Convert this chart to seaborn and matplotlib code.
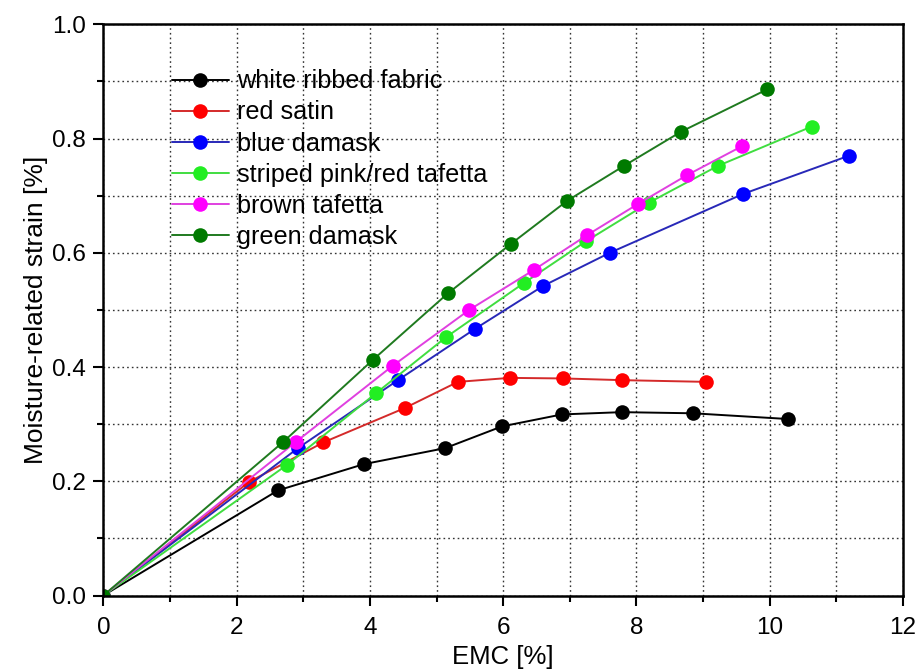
import matplotlib
matplotlib.use("Agg")
import matplotlib.pyplot as plt
import seaborn as sns
import numpy as np
import pandas as pd
from matplotlib.ticker import MultipleLocator

# ---- data ----
labels = ["white ribbed fabric", "red satin", "blue damask",
          "striped pink/red tafetta", "brown tafetta", "green damask"]

white_x = [0, 2.62, 3.91, 5.13, 5.98, 6.88, 7.78, 8.85, 10.27]
white_y = [0, 0.184, 0.230, 0.258, 0.296, 0.317, 0.321, 0.319, 0.309]

red_x = [0, 2.19, 3.30, 4.52, 5.32, 6.10, 6.90, 7.79, 9.05]
red_y = [0, 0.199, 0.268, 0.328, 0.374, 0.381, 0.380, 0.377, 0.374]

blue_x = [0, 2.92, 4.42, 5.58, 6.60, 7.60, 9.60, 11.19]
blue_y = [0, 0.258, 0.377, 0.467, 0.542, 0.600, 0.703, 0.770]

lime_x = [0, 2.76, 4.09, 5.14, 6.31, 7.24, 8.19, 9.22, 10.63]
lime_y = [0, 0.229, 0.354, 0.452, 0.547, 0.620, 0.688, 0.752, 0.821]

brown_x = [0, 2.89, 4.34, 5.49, 6.46, 7.26, 8.03, 8.76, 9.59]
brown_y = [0, 0.269, 0.402, 0.500, 0.570, 0.631, 0.686, 0.736, 0.787]

green_x = [0, 2.70, 4.04, 5.17, 6.11, 6.96, 7.81, 8.67, 9.96]
green_y = [0, 0.269, 0.412, 0.529, 0.615, 0.691, 0.752, 0.812, 0.886]

xs = [white_x, red_x, blue_x, lime_x, brown_x, green_x]
ys = [white_y, red_y, blue_y, lime_y, brown_y, green_y]

marker_colors = ["#000000", "#ff0000", "#0000ff", "#22ee22", "#ff00ff", "#007a00"]
line_colors = ["#000000", "#d42a2a", "#2828b8", "#40dd40", "#e040e0", "#1f7a1f"]

# ---- style ----
sns.set_theme(style="white")
plt.rcParams["font.family"] = ["Liberation Sans", "DejaVu Sans"]
plt.rcParams["text.color"] = "black"
plt.rcParams["axes.labelcolor"] = "black"
plt.rcParams["xtick.color"] = "black"
plt.rcParams["ytick.color"] = "black"

fig = plt.figure(figsize=(9.21, 6.71), dpi=100)
ax = fig.add_axes([0.1122, 0.1125, 0.8683, 0.8513])

for lab, x, y, mc, lc in zip(labels, xs, ys, marker_colors, line_colors):
    df = pd.DataFrame({"x": x, "y": y})
    sns.lineplot(data=df, x="x", y="y", ax=ax, color=lc, linewidth=1.4,
                 marker="o", markersize=10.5, markerfacecolor=mc,
                 markeredgecolor=mc, markeredgewidth=0, label=lab,
                 sort=False, clip_on=True)

ax.set_xlim(0, 12)
ax.set_ylim(0, 1.0)
ax.xaxis.set_major_locator(MultipleLocator(2))
ax.xaxis.set_minor_locator(MultipleLocator(1))
ax.yaxis.set_major_locator(MultipleLocator(0.2))
ax.yaxis.set_minor_locator(MultipleLocator(0.1))
ax.xaxis.set_major_formatter(matplotlib.ticker.FormatStrFormatter("%d"))
ax.yaxis.set_major_formatter(matplotlib.ticker.FormatStrFormatter("%.1f"))

ax.grid(True, which="both", linestyle=(0, (1.2, 2.2)), color="#333333",
        linewidth=1.0)
ax.set_axisbelow(True)

for s in ax.spines.values():
    s.set_visible(True)
    s.set_color("black")
    s.set_linewidth(1.8)

ax.tick_params(which="major", direction="out", length=7.5, width=1.5,
               labelsize=17.5, colors="black",
               bottom=True, left=True, top=False, right=False)
ax.tick_params(axis="x", which="major", pad=8)
ax.tick_params(axis="y", which="major", pad=5)
ax.tick_params(which="minor", direction="out", length=4, width=1.5,
               bottom=True, left=True, top=False, right=False)

ax.set_xlabel("EMC [%]", fontsize=18.5, labelpad=4)
ax.set_ylabel("Moisture-related strain [%]", fontsize=19, labelpad=3)

leg = ax.legend(loc="upper left", bbox_to_anchor=(0.0855, 0.921),
                frameon=False, fontsize=18.2, handlelength=2.25,
                handletextpad=0.32, labelspacing=0.28, borderpad=0,
                borderaxespad=0)

fig.savefig("out.png", dpi=100)
